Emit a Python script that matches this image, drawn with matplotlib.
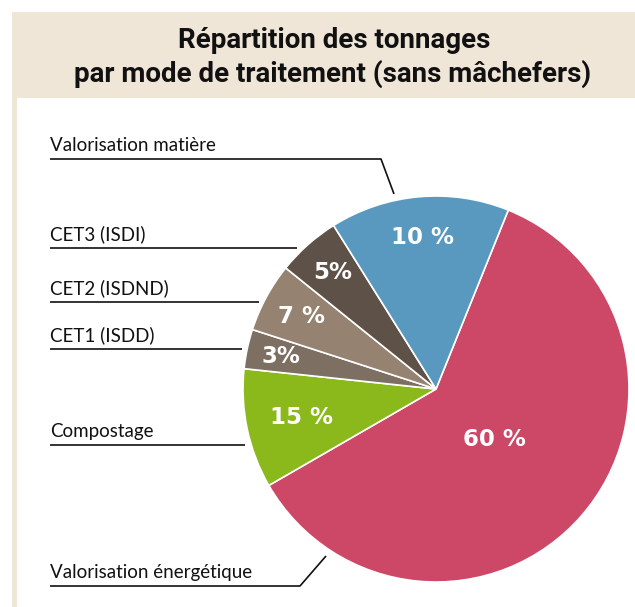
import matplotlib.pyplot as plt
from matplotlib.patches import Rectangle
import numpy as np

W, H = 635, 607

# slice shares as drawn in the picture (degrees / 3.6), clockwise from top-right
categories = ["Valorisation énergétique", "Compostage", "CET1 (ISDD)",
              "CET2 (ISDND)", "CET3 (ISDI)", "Valorisation matière"]
shares = [60.5, 10, 3.3, 5.8, 5.3, 15]
pct_text = ["60 %", "15 %", "3%", "7 %", "5%", "10 %"]
colors = ["#cc4866", "#8bb91b", "#7e6f63", "#958270", "#5e5248", "#5a99bf"]
label_dist = [0.40, 0.71, 0.82, 0.79, 0.81, 0.79]

# left-hand labels: (y of underline, end x of underline, elbow target or None)
label_rows = {
    "Valorisation matière": (159, 381, (394, 194)),
    "CET3 (ISDI)": (248, 297, None),
    "CET2 (ISDND)": (302, 259, None),
    "CET1 (ISDD)": (349, 242, None),
    "Compostage": (445, 245, None),
    "Valorisation énergétique": (586, 300, (326, 556)),
}

fig = plt.figure(figsize=(W / 100, H / 100), dpi=100)
ax = fig.add_axes([0, 0, 1, 1])

def Y(y):
    return H - y

# header band and left strip
ax.add_patch(Rectangle((12, Y(98)), W - 12, 86, color="#f0e6d8", lw=0))
ax.add_patch(Rectangle((12, 0), 4.5, Y(98), color="#f0e6d8", lw=0))

title_font = ["Roboto", "DejaVu Sans"]
ax.text(334, Y(41), "Répartition des tonnages", ha="center", va="center",
        fontsize=20, fontweight="bold", family=title_font, color="#111111")
ax.text(333, Y(74), "par mode de traitement (sans mâchefers)", ha="center", va="center",
        fontsize=20, fontweight="bold", family=title_font, color="#111111")

cx, cy, r = 436, Y(389), 193
wedges, _ = ax.pie(shares, colors=colors, startangle=68, counterclock=False,
                   center=(cx, cy), radius=r, frame=True,
                   wedgeprops=dict(edgecolor="white", linewidth=1.2))
ax.set_xlim(0, W)
ax.set_ylim(0, H)
ax.set_aspect("equal")
ax.axis("off")

for w, t, d in zip(wedges, pct_text, label_dist):
    mid = np.deg2rad((w.theta1 + w.theta2) / 2)
    ax.text(cx + d * r * np.cos(mid), cy + d * r * np.sin(mid), t,
            ha="center", va="center", color="white", fontsize=16.5,
            fontweight="bold", family="DejaVu Sans")

for name, (ly, lx, elbow) in label_rows.items():
    ax.text(50, Y(ly - 8), name, ha="left", va="baseline", fontsize=13.5,
            family="Lato", color="#111111")
    xs, ys = [50, lx], [Y(ly), Y(ly)]
    if elbow:
        xs.append(elbow[0])
        ys.append(Y(elbow[1]))
    ax.plot(xs, ys, color="#111111", lw=1.2, solid_capstyle="butt")

fig.savefig("out.png", dpi=100)
